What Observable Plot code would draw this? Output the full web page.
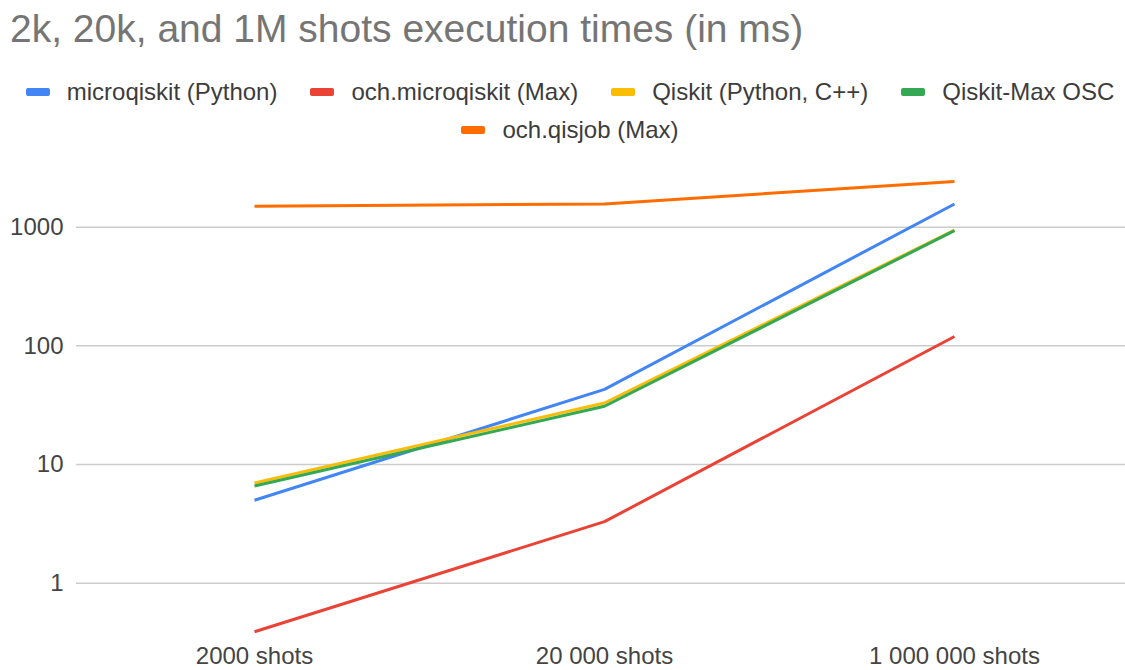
<!DOCTYPE html>
<html>
<head>
<meta charset="utf-8">
<script src="https://cdn.jsdelivr.net/npm/d3@7"></script>
<script src="https://cdn.jsdelivr.net/npm/@observablehq/plot@0.6"></script>
<style>
  html, body { margin: 0; padding: 0; background: #fff; }
  body { width: 1125px; height: 670px; overflow: hidden; font-family: "Liberation Sans", Arial, sans-serif; }
  #title { height: 52px; box-sizing: border-box; padding: 6px 0 0 10px; font-size: 39px; line-height: 46px; color: #757575; white-space: nowrap; }
  #legend { margin-top: 21px; margin-left: 15px; width: 1110px; height: 76px; }
  .row { display: flex; justify-content: center; align-items: center; height: 38px; line-height: 38px; }
  .item { display: flex; align-items: center; font-size: 24px; color: #3c3c3c; white-space: nowrap; }
  .item + .item { margin-left: 33px; }
  .sw { width: 24px; height: 8px; border-radius: 2px; margin-right: 17px; }
  #chart svg { display: block; }
</style>
</head>
<body>
<div id="title"></div>
<div id="legend"></div>
<div id="chart"></div>
<script>
const titleText = "2k, 20k, and 1M shots execution times (in ms)";
const categories = ["2000 shots", "20 000 shots", "1 000 000 shots"];
const seriesNames = ["microqiskit (Python)", "och.microqiskit (Max)", "Qiskit (Python, C++)", "Qiskit-Max OSC", "och.qisjob (Max)"];
const seriesColors = ["#4285F4", "#EA4335", "#FBBC04", "#34A853", "#FF6D01"];
const microqiskit = [5.0, 43, 1570];
const ochMicroqiskit = [0.39, 3.3, 120];
const qiskit = [7.0, 33, 945];
const qiskitMaxOsc = [6.6, 31, 935];
const ochQisjob = [1500, 1570, 2430];
const yTicks = [1, 10, 100, 1000];
const legendRows = [[0, 1, 2, 3], [4]];

const seriesValues = [microqiskit, ochMicroqiskit, qiskit, qiskitMaxOsc, ochQisjob];

document.getElementById("title").textContent = titleText;

const legend = document.getElementById("legend");
for (const row of legendRows) {
  const r = document.createElement("div");
  r.className = "row";
  for (const i of row) {
    const it = document.createElement("div");
    it.className = "item";
    const sw = document.createElement("span");
    sw.className = "sw";
    sw.style.background = seriesColors[i];
    const tx = document.createElement("span");
    tx.textContent = seriesNames[i];
    it.appendChild(sw);
    it.appendChild(tx);
    r.appendChild(it);
  }
  legend.appendChild(r);
}

const data = [];
seriesNames.forEach((name, i) => {
  categories.forEach((c, j) => data.push({series: name, shots: c, ms: seriesValues[i][j]}));
});

const lineMarks = seriesNames.map((name, i) =>
  Plot.line(data.filter(d => d.series === name), {
    x: "shots", y: "ms", stroke: seriesColors[i], strokeWidth: 3,
    strokeLinejoin: "round", strokeLinecap: "butt"
  })
);

const chart = Plot.plot({
  width: 1125,
  height: 521,
  marginLeft: 76,
  marginRight: 0,
  marginTop: 0,
  marginBottom: 30,
  style: {fontFamily: "'Liberation Sans', Arial, sans-serif", fontSize: "24px", color: "#444", background: "#fff"},
  x: {type: "point", domain: categories, padding: 0.5, range: [78, 1130]},
  y: {type: "log", domain: [1, 1000], range: [433.7, 77.7]},
  marks: [
    Plot.ruleY(yTicks, {stroke: "#cccccc", strokeWidth: 1.5}),
    Plot.axisY(yTicks, {tickSize: 0, tickPadding: 13, tickFormat: d => String(d), label: null, fontSize: 24}),
    Plot.axisX(categories, {tickSize: 0, tickPadding: 6, label: null, fontSize: 24}),
    ...lineMarks
  ]
});
document.getElementById("chart").appendChild(chart);
</script>
</body>
</html>
